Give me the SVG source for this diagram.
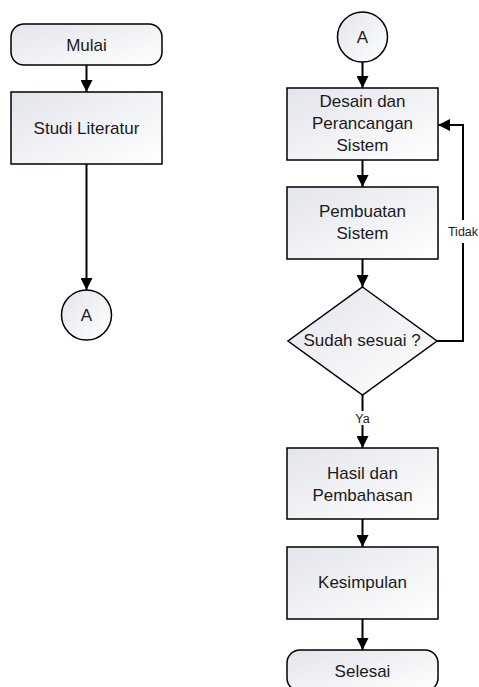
<svg xmlns="http://www.w3.org/2000/svg" width="479" height="687" viewBox="0 0 479 687">
<defs>
<linearGradient id="g" x1="0" y1="0" x2="1" y2="1">
<stop offset="0" stop-color="#e2e5eb"/>
<stop offset="1" stop-color="#ffffff"/>
</linearGradient>
<marker id="ah" markerUnits="userSpaceOnUse" markerWidth="12" markerHeight="12" refX="12" refY="6" orient="auto" viewBox="0 0 12 12">
<path d="M0,0 L12,6 L0,12 z" fill="#000"/>
</marker>
<style>
.s{fill:url(#g);stroke:#000;stroke-width:1.5}
.t{font-family:"Liberation Sans",Arial,sans-serif;font-size:17px;fill:#1a1a1a;text-anchor:middle}
.l{font-family:"Liberation Sans",Arial,sans-serif;font-size:12.5px;fill:#1a1a1a;text-anchor:middle}
.c{fill:none;stroke:#000;stroke-width:2}
.a{marker-end:url(#ah)}
</style>
</defs>
<rect width="479" height="687" fill="#fff"/>
<g id="connectors">
<line class="c a" x1="86.5" y1="65" x2="86.5" y2="92"/>
<line class="c a" x1="86.5" y1="164" x2="86.5" y2="290"/>
<line class="c a" x1="362.5" y1="62" x2="362.5" y2="88"/>
<line class="c a" x1="362.5" y1="160" x2="362.5" y2="187"/>
<line class="c a" x1="362.5" y1="259" x2="362.5" y2="287"/>
<polyline class="c a" points="437,341 463,341 463,125 438,125"/>
<line class="c" x1="362.5" y1="395" x2="362.5" y2="411"/>
<line class="c a" x1="362.5" y1="425" x2="362.5" y2="448"/>
<line class="c a" x1="362.5" y1="519" x2="362.5" y2="547"/>
<line class="c a" x1="362.5" y1="619" x2="362.5" y2="650"/>
<rect x="446" y="220" width="33" height="23" fill="#fff"/>
<text class="l" x="463" y="236">Tidak</text>
<text class="l" x="362.5" y="423">Ya</text>
</g>
<g id="mulai">
<rect class="s" x="11" y="24" width="151" height="41" rx="13" ry="13"/>
<text class="t" x="86.5" y="50.5">Mulai</text>
</g>
<g id="studi">
<rect class="s" x="11" y="92" width="151" height="72"/>
<text class="t" x="86.5" y="134">Studi Literatur</text>
</g>
<g id="a-left">
<circle class="s" cx="86.5" cy="315" r="25"/>
<text class="t" x="86.5" y="321">A</text>
</g>
<g id="a-right">
<circle class="s" cx="362.5" cy="37" r="25"/>
<text class="t" x="362.5" y="43">A</text>
</g>
<g id="desain">
<rect class="s" x="287" y="88" width="151" height="72"/>
<text class="t" x="362.5" y="107">Desain dan</text>
<text class="t" x="362.5" y="129">Perancangan</text>
<text class="t" x="362.5" y="151">Sistem</text>
</g>
<g id="pembuatan">
<rect class="s" x="287" y="187" width="151" height="72"/>
<text class="t" x="362.5" y="217">Pembuatan</text>
<text class="t" x="362.5" y="239">Sistem</text>
</g>
<g id="sesuai">
<polygon class="s" points="362.5,287 437,341 362.5,395 288,341"/>
<text class="t" x="362" y="346">Sudah sesuai ?</text>
</g>
<g id="hasil">
<rect class="s" x="287" y="448" width="151" height="71"/>
<text class="t" x="362.5" y="479">Hasil dan</text>
<text class="t" x="362.5" y="501">Pembahasan</text>
</g>
<g id="kesimpulan">
<rect class="s" x="287" y="547" width="151" height="72"/>
<text class="t" x="362.5" y="588">Kesimpulan</text>
</g>
<g id="selesai">
<rect class="s" x="287" y="650" width="151" height="41" rx="13" ry="13"/>
<text class="t" x="362.5" y="676.5">Selesai</text>
</g>
</svg>
